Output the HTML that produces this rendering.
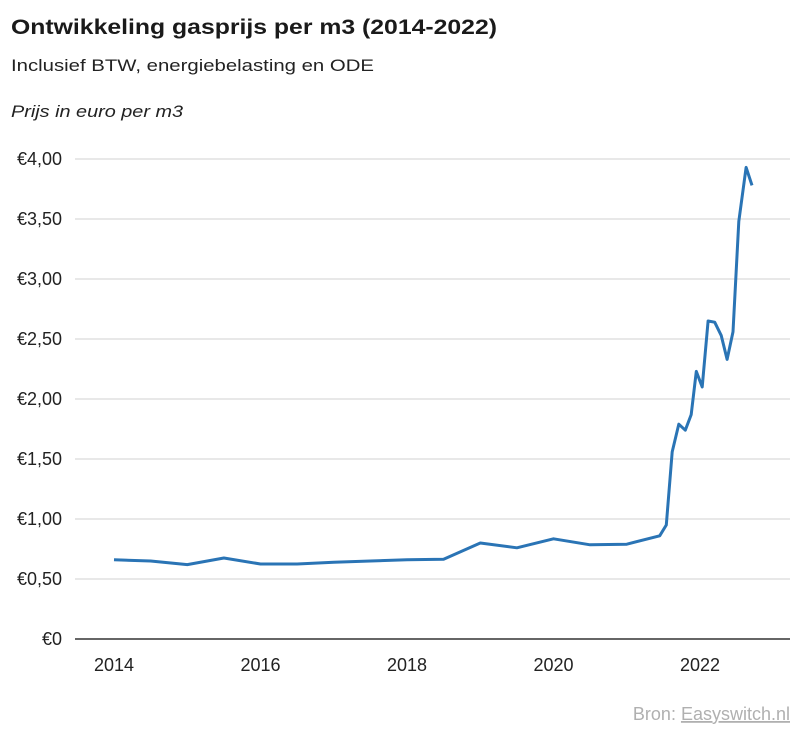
<!DOCTYPE html>
<html><head><meta charset="utf-8"><style>
body{margin:0;background:#fff;width:800px;height:733px;overflow:hidden;font-family:"Liberation Sans",sans-serif}
</style></head><body>
<svg width="800" height="733" id="c">
<text x="11" y="34" font-size="21" font-weight="bold" fill="#1a1a1a" textLength="486" lengthAdjust="spacingAndGlyphs">Ontwikkeling gasprijs per m3 (2014-2022)</text>
<text x="11" y="71" font-size="17" fill="#222" textLength="363" lengthAdjust="spacingAndGlyphs">Inclusief BTW, energiebelasting en ODE</text>
<text x="11" y="117" font-size="17" font-style="italic" fill="#222" textLength="172" lengthAdjust="spacingAndGlyphs">Prijs in euro per m3</text>
<g id="grid"></g><g id="xt"></g>
<path id="line" fill="none" stroke="#2a74b5" stroke-width="3" stroke-linejoin="round"/>
<text x="790" y="720" font-size="18" fill="#b0b0b0" text-anchor="end">Bron:  <tspan text-decoration="underline">Easyswitch.nl</tspan></text>
</svg>
<script>
const years=[2014,2014.5,2015,2015.5,2016,2016.5,2017,2017.5,2018,2018.5,2019,2019.5,2020,2020.5,2021,2021.45,2021.54,2021.62,2021.71,2021.8,2021.88,2021.95,2022.03,2022.11,2022.2,2022.29,2022.37,2022.45,2022.53,2022.63,2022.71];
const prices=[0.66,0.65,0.62,0.675,0.625,0.625,0.64,0.65,0.66,0.665,0.8,0.76,0.835,0.785,0.79,0.86,0.95,1.56,1.79,1.74,1.87,2.23,2.1,2.65,2.64,2.53,2.33,2.56,3.48,3.93,3.78];
const yTicks=[0,0.5,1,1.5,2,2.5,3,3.5,4];
const yLabels=["€0","€0,50","€1,00","€1,50","€2,00","€2,50","€3,00","€3,50","€4,00"];
const xTicks=[2014,2016,2018,2020,2022];
const X=v=>114+(v-2014)*73.25, Y=v=>639-v*120;
const NS="http://www.w3.org/2000/svg";
const g=document.getElementById('grid'), xt=document.getElementById('xt');
yTicks.forEach((t,i)=>{
 const l=document.createElementNS(NS,'line');
 
 
 l.setAttribute('x1',75);l.setAttribute('x2',790);l.setAttribute('y1',Y(t));l.setAttribute('y2',Y(t));
 l.setAttribute('stroke',t===0?'#333':'#d0d0d0');l.setAttribute('stroke-width',t===0?1.5:1);
 g.appendChild(l);
 const tx=document.createElementNS(NS,'text');
 
 
 tx.setAttribute('x',62);tx.setAttribute('y',Y(t)+6);tx.setAttribute('text-anchor','end');tx.setAttribute('font-size','18');tx.setAttribute('fill','#222');
 tx.textContent=yLabels[i];g.appendChild(tx);
});
xTicks.forEach(t=>{
 const tx=document.createElementNS(NS,'text');
 
 
 tx.setAttribute('x',X(t));tx.setAttribute('y',671);tx.setAttribute('text-anchor','middle');tx.setAttribute('font-size','18');tx.setAttribute('fill','#222');
 tx.textContent=t;xt.appendChild(tx);
});
document.getElementById('line').setAttribute('d',years.map((y,i)=>(i?'L':'M')+X(y).toFixed(1)+','+Y(prices[i]).toFixed(1)).join(''));
</script>
</body></html>
